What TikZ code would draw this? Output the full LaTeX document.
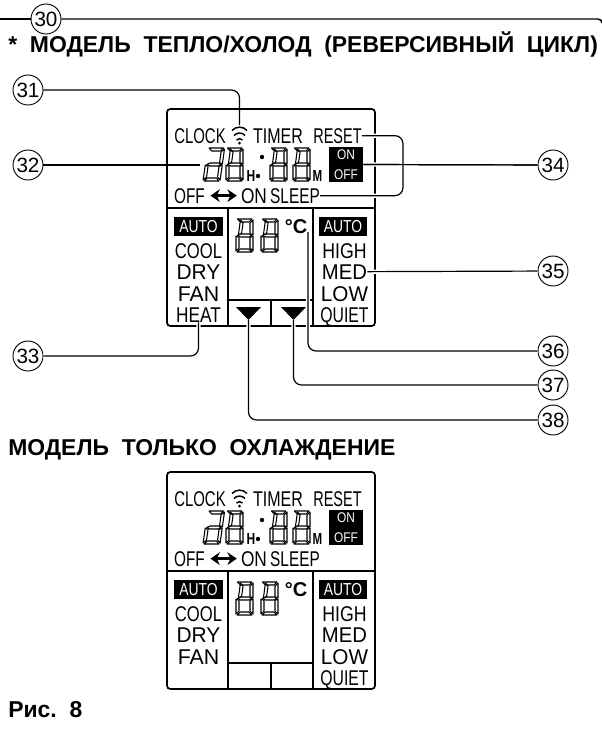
\documentclass[tikz,border=0pt]{standalone}
\usepackage{graphicx}
\usepackage{fontspec}
\setmainfont{Liberation Sans}
\usetikzlibrary{arrows.meta}

\newcommand{\lcdword}[2]{\scalebox{#1}[1]{#2}}

\tikzset{
    circled/.style={circle, draw, fill=white, line width=0.7pt, minimum size=22.5pt, inner sep=0pt, font=\fontsize{15.5}{16}\selectfont},
    heading/.style={anchor=base west, inner sep=0pt, font=\fontsize{17.2}{18}\selectfont\bfseries},
    lcdtext/.style={anchor=base, inner sep=0pt, font=\fontsize{16}{18}\selectfont},
    lcdsmall/.style={anchor=base, inner sep=0pt, font=\fontsize{12}{12}\selectfont\bfseries},
    lcdbox/.style={fill=black, text=white, inner sep=0pt, align=center},
    lcdseg/.style={line width=0.8pt, line join=round},
    frame/.style={line width=1.3pt, rounded corners=2.5pt},
    divider/.style={line width=1pt},
    leader/.style={line width=0.9pt, rounded corners=6pt},
    leadergap/.style={leader, preaction={draw=white, line width=3.2pt, rounded corners=6pt}},
    % one digit without its upper left segment
    lcdtens/.pic={
        \foreach \seg in {{(1.5,-33)--(16,-33)--(13,-30)--(4.5,-30)},
                          {(17,-32)--(14,-29)--(14,-18.5)--(17,-17)},
                          {(1.5,-16.5)--(4.5,-18)--(13,-18)--(16,-16.5)--(13,-15)--(4.5,-15)},
                          {(0,-16)--(3,-14.5)--(3,-4)--(0,-1)},
                          {(17,-16)--(14,-14.5)--(14,-4)--(17,-1)},
                          {(1,0)--(16,0)--(13,-3)--(4,-3)}} {
            \draw[lcdseg] \seg -- cycle;
        }
    },
    lcdeight/.pic={
        \pic {lcdtens};
        \draw[lcdseg] (0,-32) -- (3,-29) -- (3,-18.5) -- (0,-17) -- cycle;
    },
    lcdpanel/.pic={
        % Frame and dividers
        \draw[frame] (167,109) rectangle (375,326);
        \draw[divider] (167,208) -- (375,208);
        \draw[divider] (228,208) -- (228,326);
        \draw[divider] (313,208) -- (313,326);
        \draw[divider] (228,300) -- (313,300);
        \draw[divider] (271,300) -- (271,326);
        % Words of the display
        \foreach \name/\x/\y/\sx/\word in {clock/200/143/.70/CLOCK, timer/278/143/.75/TIMER, reset/337.5/143/.68/RESET,
                off/189.5/203/.72/OFF, on/254/203/.81/ON, sleep/295/203/.72/SLEEP,
                cool/198.5/258/.78/COOL, dry/198.5/279/.98/DRY, fan/198.5/301/1/FAN,
                high/344.5/258/.83/HIGH, med/344.5/279/.95/MED, low/344.5/301/.97/LOW, quiet/344.5/322/.74/QUIET} {
            \node[lcdtext] (-\name) at (\x,\y) {\lcdword{\sx}{\word}};
        }
        \draw[{Stealth[length=7pt,width=9.5pt]}-{Stealth[length=7pt,width=9.5pt]}, line width=2pt, shorten <=4pt, shorten >=3pt] (-off.east) -- (-on.west);
        \node[lcdsmall] (-hourmark) at (251,181) {\lcdword{.75}{H}};
        \node[lcdsmall] (-minmark) at (317.5,181) {\lcdword{.72}{M}};
        \node[lcdbox, minimum width=25.5pt, minimum height=26.5pt, font=\fontsize{10.5}{15}\selectfont] (-onoff) at (346,164.5) {\lcdword{.85}{ON}\\\lcdword{.85}{OFF}};
        \foreach \name/\x in {autoleft/198.5, autoright/343} {
            \node[lcdbox, minimum width=36.5pt, minimum height=14pt, font=\fontsize{13}{14}\selectfont] (-\name) at (\x,226.5) {\lcdword{.8}{AUTO}};
        }
        \node[anchor=base, inner sep=0pt, font=\fontsize{15}{16}\selectfont\bfseries] (-celsius) at (296,233) {°C};
        % Signal mark
        \foreach \w/\y in {7.5/130.5, 5.5/135.5, 3/140} {
            \draw[line width=1.1pt] (239.5-\w,\y) to[bend left=50] (239.5+\w,\y);
        }
        \fill (239.5,143) circle (1.5);
        % Digits
        \foreach \x in {226, 270, 293} {
            \pic[xslant=.14] at (\x,181) {lcdeight};
        }
        \pic[xslant=.14] at (203,181) {lcdtens};
        \foreach \x in {236, 261} {
            \pic[xslant=.14] at (\x,252) {lcdeight};
        }
        \fill (262,157) circle (2.2);
        \fill (258,176) circle (2.2);
        % Free ends for the leaders
        \coordinate (-signal) at (239.5,125);
        \coordinate (-hours) at (200,165);
        \coordinate (-degree) at (308,232);
    }
}

\begin{document}
\begin{tikzpicture}[x=0.75pt, y=-0.75pt]
    \useasboundingbox (0,0) rectangle (602,740);

    % Headings
    \node[heading] (titleheat) at (8,52) {*\ \ МОДЕЛЬ\ \ ТЕПЛО/ХОЛОД\ \ (РЕВЕРСИВНЫЙ\ \ ЦИКЛ)};
    \node[heading] (titlecool) at (8,455) {МОДЕЛЬ\ \ ТОЛЬКО\ \ ОХЛАЖДЕНИЕ};
    \node[heading] (caption) at (8,717) {Рис.\ \ 8};

    % Both displays
    \pic (up) at (0,0) {lcdpanel};
    \pic (dn) at (0,363) {lcdpanel};

    % Parts that only the upper display has
    \node[lcdtext] (upheat) at (198.5,322) {\lcdword{.81}{HEAT}};
    \foreach \name/\x in {tri38/248.5, tri37/293.5} {
        \coordinate (\name) at (\x,320);
        \fill[shift={(\name)}] (-12.5,-13) -- (12.5,-13) -- (0,0) -- cycle;
    }

    % Numbers
    \foreach \num/\x/\y in {30/46/19, 31/28/90, 32/28/165, 33/28/356, 34/553/165, 35/553/271, 36/553/351, 37/553/385, 38/553/420} {
        \node[circled] (c\num) at (\x,\y) {\num};
    }

    % Top rule
    \coordinate (ruleleft) at (0,19);
    \coordinate (ruleright) at (602,23);
    \draw[line width=1.1pt] (ruleleft) -- (c30);
    \draw[line width=1.1pt, rounded corners=3pt] (c30) -| (ruleright);

    % Leaders
    \coordinate (bracket) at (403,165);
    \draw[leader] (c31) -| (up-signal);
    \draw[leader] (c32) -- (up-hours);
    \draw[leadergap] (up-onoff.east) -- (c34);
    \draw[leadergap] (up-reset.east) -| (bracket) |- (up-sleep.east);
    \draw[leader] (up-onoff.east) -- (c34);
    \draw[leadergap] (up-med.east) -- (c35);
    \draw[leadergap] (upheat.south) |- (c33);
    \draw[leadergap] (up-degree) |- (c36);
    \draw[leadergap] (tri37) |- (c37);
    \draw[leadergap] (tri38) |- (c38);
\end{tikzpicture}
\end{document}
